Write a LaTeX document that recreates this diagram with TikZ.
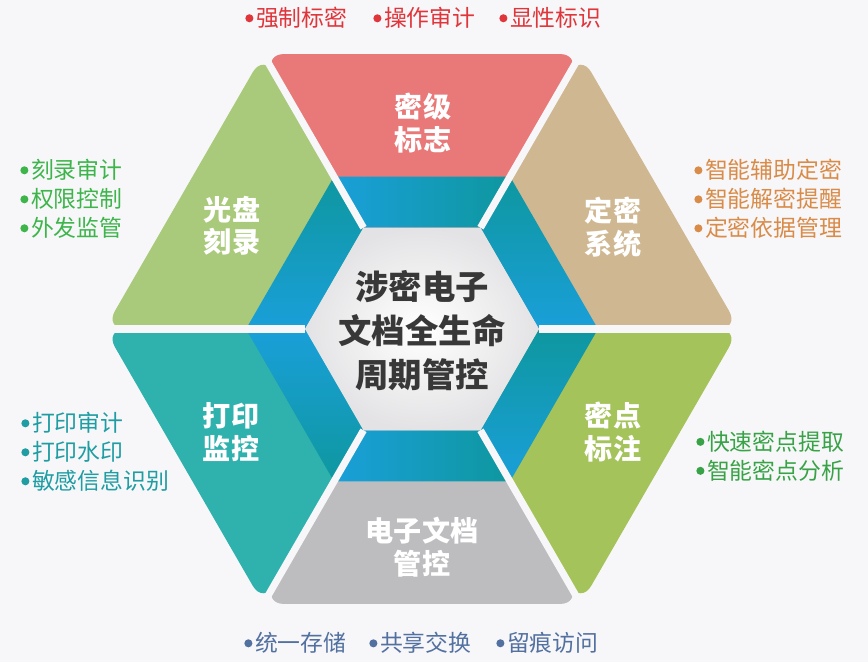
\documentclass[tikz,border=0pt]{standalone}
\usepackage{fontspec}
\setmainfont{Noto Sans CJK SC}
\definecolor{BgClr}{rgb}{0.969,0.969,0.976}
\definecolor{RedClr}{rgb}{0.914,0.471,0.471}
\definecolor{TanClr}{rgb}{0.812,0.718,0.569}
\definecolor{LimeClr}{rgb}{0.647,0.765,0.357}
\definecolor{GrayClr}{rgb}{0.741,0.741,0.753}
\definecolor{TealClr}{rgb}{0.184,0.694,0.678}
\definecolor{SageClr}{rgb}{0.663,0.788,0.482}
\definecolor{RingBlueClr}{rgb}{0.102,0.624,0.851}
\definecolor{RingTealClr}{rgb}{0.055,0.592,0.624}
\definecolor{HexClr}{rgb}{0.890,0.890,0.898}
\definecolor{CtrTxtClr}{rgb}{0.220,0.220,0.220}
\definecolor{TxtRedClr}{rgb}{0.878,0.208,0.231}
\definecolor{TxtTanClr}{rgb}{0.851,0.545,0.282}
\definecolor{TxtGreenClr}{rgb}{0.239,0.710,0.294}
\definecolor{TxtTealClr}{rgb}{0.122,0.616,0.639}
\definecolor{TxtLimeClr}{rgb}{0.220,0.635,0.278}
\definecolor{TxtBlueClr}{rgb}{0.322,0.439,0.627}
\newcommand\bul{\tikz[baseline=-4.8pt]\fill (0,0) circle (2.3pt);\hspace{1.5pt}}

\begin{document}
\begin{tikzpicture}[x=0.02cm,y=-0.02cm]
\tikzset{
  sector/.style={rounded corners=12pt},
  gapline/.style={line width=4pt,color=BgClr},
  title/.style={text=white,font=\bfseries\fontsize{16}{18.5}\selectfont,align=center},
  item/.style={anchor=west,align=left,inner sep=0pt,font=\fontsize{13}{16.5}\selectfont}
}

\fill[BgClr] (0,0) rectangle (868,662);
\useasboundingbox (0,0) rectangle (868,662);

\begin{scope}[shift={(422,329)}]
% outer sectors
\fill[RedClr,sector] (240:100) -- (240:317.5) -- (300:317.5) -- (300:100) -- cycle;
\fill[TanClr,sector] (300:100) -- (300:317.5) -- (360:317.5) -- (360:100) -- cycle;
\fill[LimeClr,sector] (0:100) -- (0:317.5) -- (60:317.5) -- (60:100) -- cycle;
\fill[GrayClr,sector] (60:100) -- (60:317.5) -- (120:317.5) -- (120:100) -- cycle;
\fill[TealClr,sector] (120:100) -- (120:317.5) -- (180:317.5) -- (180:100) -- cycle;
\fill[SageClr,sector] (180:100) -- (180:317.5) -- (240:317.5) -- (240:100) -- cycle;

% blue ring
\shade[left color=RingBlueClr,right color=RingTealClr] (240:117) -- (240:176) -- (300:176) -- (300:117) -- cycle;
\shade[top color=RingTealClr,bottom color=RingBlueClr] (300:117) -- (300:176) -- (360:176) -- (360:117) -- cycle;
\shade[top color=RingTealClr,bottom color=RingBlueClr] (0:117) -- (0:176) -- (60:176) -- (60:117) -- cycle;
\shade[left color=RingBlueClr,right color=RingTealClr] (60:117) -- (60:176) -- (120:176) -- (120:117) -- cycle;
\shade[top color=RingBlueClr,bottom color=RingTealClr] (120:117) -- (120:176) -- (180:176) -- (180:117) -- cycle;
\shade[top color=RingTealClr,bottom color=RingBlueClr] (180:117) -- (180:176) -- (240:176) -- (240:117) -- cycle;

% centre
\shade[inner color=white,outer color=HexClr] (0:117) -- (60:117) -- (120:117) -- (180:117) -- (240:117) -- (300:117) -- cycle;

\draw[gapline] (0:117) -- (0:340);
\draw[gapline] (60:117) -- (60:340);
\draw[gapline] (120:117) -- (120:340);
\draw[gapline] (180:117) -- (180:340);
\draw[gapline] (240:117) -- (240:340);
\draw[gapline] (300:117) -- (300:340);

\node[font=\bfseries\fontsize{19}{25}\selectfont,text=CtrTxtClr,align=center] (ctr) at (0,2) {涉密电子\\文档全生命\\周期管控};
\end{scope}

\node[title] (mj) at (423,123) {密级\\标志};
\node[title] (dm) at (613,227) {定密\\系统};
\node[title] (md) at (613,432) {密点\\标注};
\node[title] (dz) at (422,547) {电子文档\\管控};
\node[title] (dy) at (231,432) {打印\\监控};
\node[title] (gp) at (232,226) {光盘\\刻录};

\node[item,text=TxtRedClr] (t1) at (245,18) {\bul 强制标密};
\node[item,text=TxtRedClr] (t2) at (373,18) {\bul 操作审计};
\node[item,text=TxtRedClr] (t3) at (499,18) {\bul 显性标识};

\node[item,text=TxtTanClr] (r1) at (694,199) {\bul 智能辅助定密\\\bul 智能解密提醒\\\bul 定密依据管理};
\node[item,text=TxtLimeClr] (r2) at (696,456) {\bul 快速密点提取\\\bul 智能密点分析};

\node[item,text=TxtGreenClr] (l1) at (20,199) {\bul 刻录审计\\\bul 权限控制\\\bul 外发监管};
\node[item,text=TxtTealClr] (l2) at (21,452) {\bul 打印审计\\\bul 打印水印\\\bul 敏感信息识别};

\node[item,text=TxtBlueClr] (b1) at (244,643) {\bul 统一存储};
\node[item,text=TxtBlueClr] (b2) at (369,643) {\bul 共享交换};
\node[item,text=TxtBlueClr] (b3) at (496,643) {\bul 留痕访问};

\end{tikzpicture}
\end{document}
